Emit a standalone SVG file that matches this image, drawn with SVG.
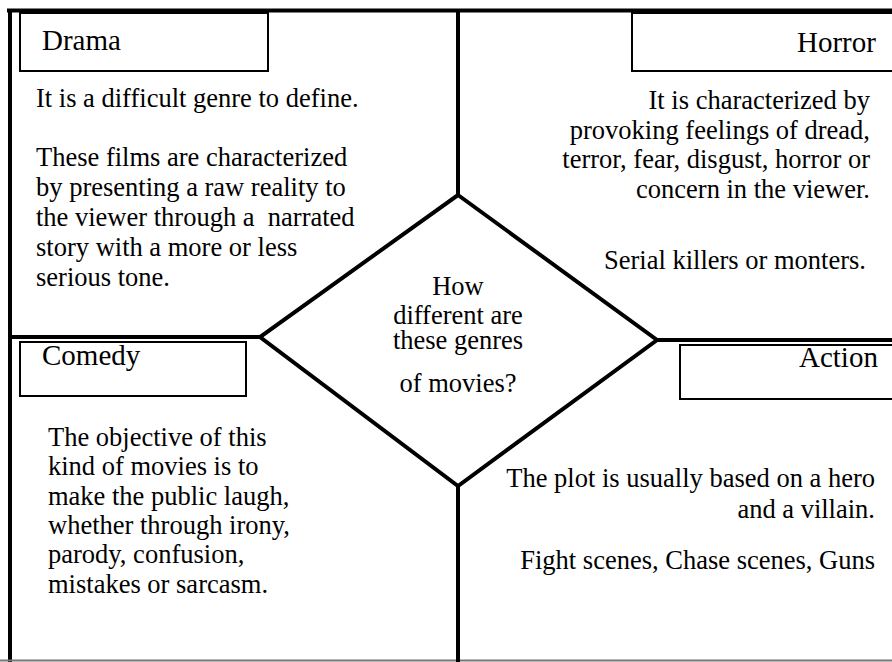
<svg xmlns="http://www.w3.org/2000/svg" width="892" height="662" viewBox="0 0 892 662">
<style>
.frame{stroke:#000;stroke-width:4;fill:none;stroke-linecap:butt}
.box{fill:#fff;stroke:#000;stroke-width:2}
.lbl{font-family:"Liberation Serif","Times New Roman",serif;font-size:29px;fill:#000}
.txt{font-family:"Liberation Serif","Times New Roman",serif;font-size:26.5px;fill:#000}
.r{text-anchor:end}
.c{text-anchor:middle}
</style>
<rect width="892" height="662" fill="#fff"/>
<g id="connectors">
<line class="frame" x1="7" y1="10.5" x2="892" y2="10.5"/>
<line class="frame" x1="10" y1="9" x2="10" y2="662"/>
<line x1="0" y1="660.5" x2="892" y2="660.5" stroke="#777" stroke-width="2"/>
<line class="frame" x1="458" y1="10" x2="458" y2="195"/>
<line class="frame" x1="458" y1="486" x2="458" y2="662"/>
<line class="frame" x1="10" y1="337" x2="260" y2="337"/>
<line class="frame" x1="657" y1="340" x2="892" y2="340"/>
</g>
<g id="center">
<polygon points="458,195 657,340 458,486 260,337" fill="#fff" stroke="#000" stroke-width="4" stroke-linejoin="miter"/>
<text class="txt c" x="458" y="295">How</text>
<text class="txt c" x="458" y="324">different are</text>
<text class="txt c" x="458" y="349">these genres</text>
<text class="txt c" x="458" y="392">of movies?</text>
</g>
<g id="drama">
<rect class="box" x="20" y="13" width="248" height="58"/>
<text class="lbl" x="42" y="50">Drama</text>
<text class="txt" x="36" y="107">It is a difficult genre to define.</text>
<text class="txt" x="36" y="166">These films are characterized</text>
<text class="txt" x="36" y="196">by presenting a raw reality to</text>
<text class="txt" x="36" y="226" xml:space="preserve">the viewer through a  narrated</text>
<text class="txt" x="36" y="256">story with a more or less</text>
<text class="txt" x="36" y="286">serious tone.</text>
</g>
<g id="horror">
<rect class="box" x="632" y="13" width="262" height="58"/>
<text class="lbl" x="797" y="52">Horror</text>
<text class="txt r" x="870" y="109">It is characterized by</text>
<text class="txt r" x="870" y="139">provoking feelings of dread,</text>
<text class="txt r" x="870" y="168">terror, fear, disgust, horror or</text>
<text class="txt r" x="870" y="198">concern in the viewer.</text>
<text class="txt r" x="866" y="269">Serial killers or monters.</text>
</g>
<g id="comedy">
<rect class="box" x="20" y="342" width="226" height="54"/>
<text class="lbl" x="42" y="365">Comedy</text>
<text class="txt" x="48" y="446">The objective of this</text>
<text class="txt" x="48" y="475">kind of movies is to</text>
<text class="txt" x="48" y="505">make the public laugh,</text>
<text class="txt" x="48" y="534">whether through irony,</text>
<text class="txt" x="48" y="563">parody, confusion,</text>
<text class="txt" x="48" y="593">mistakes or sarcasm.</text>
</g>
<g id="action">
<rect class="box" x="680" y="345" width="214" height="54"/>
<text class="lbl" x="799" y="367">Action</text>
<text class="txt r" x="875" y="487">The plot is usually based on a hero</text>
<text class="txt r" x="875" y="518">and a villain.</text>
<text class="txt r" x="875" y="569">Fight scenes, Chase scenes, Guns</text>
</g>
</svg>
